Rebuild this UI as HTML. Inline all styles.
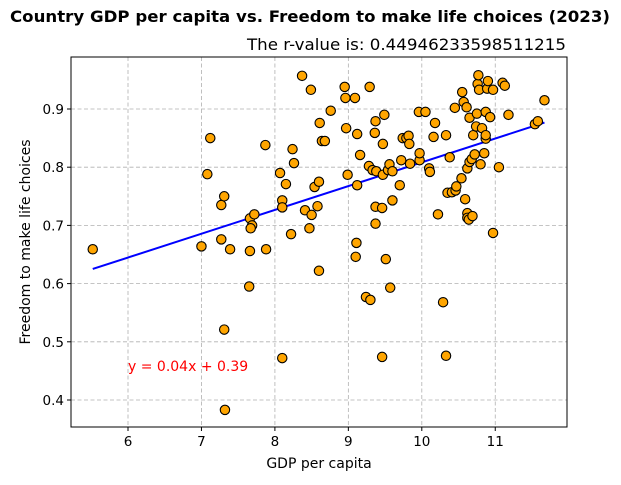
<!DOCTYPE html>
<html><head><meta charset="utf-8"><style>
body{margin:0;background:#fff;font-family:"Liberation Sans","DejaVu Sans",sans-serif}
</style></head><body>
<svg id="chart" width="621" height="480" xmlns="http://www.w3.org/2000/svg" font-family="'DejaVu Sans','Liberation Sans',sans-serif">
<text x="310" y="22" text-anchor="middle" font-size="16" font-weight="bold" textLength="600" lengthAdjust="spacingAndGlyphs">Country GDP per capita vs. Freedom to make life choices (2023)</text>
<text x="566" y="50" text-anchor="end" font-size="16" textLength="319" lengthAdjust="spacingAndGlyphs">The r-value is: 0.44946233598511215</text>
<g id="grid"></g>
<g id="ticks"></g>
<g id="line"></g>
<g id="points"></g>
<rect x="71" y="57" width="496" height="370" fill="none" stroke="#000" stroke-width="1"/>
<text x="128" y="371" font-size="14" fill="red">y = 0.04x + 0.39</text>
<text x="319" y="468" text-anchor="middle" font-size="14">GDP per capita</text>
<text x="30" y="242" text-anchor="middle" font-size="14" transform="rotate(-90 30 242)">Freedom to make life choices</text>
</svg>
<script>
const gdp=[5.52,7.0,7.08,7.12,7.27,7.31,7.27,7.31,7.32,7.39,7.66,7.72,7.69,7.67,7.66,7.65,7.87,7.88,8.07,8.1,8.1,8.1,8.15,8.22,8.24,8.26,8.37,8.41,8.47,8.49,8.5,8.54,8.58,8.6,8.6,8.61,8.64,8.68,8.76,8.95,8.96,8.97,8.99,9.09,9.1,9.11,9.12,9.12,9.16,9.24,9.28,9.29,9.3,9.33,9.36,9.37,9.37,9.37,9.38,9.46,9.46,9.47,9.49,9.47,9.51,9.54,9.56,9.57,9.6,9.6,9.7,9.72,9.74,9.79,9.82,9.84,9.83,9.96,10.05,9.97,9.97,10.1,10.11,10.16,10.18,10.22,10.29,10.33,10.33,10.35,10.38,10.41,10.45,10.46,10.47,10.54,10.55,10.57,10.61,10.59,10.62,10.62,10.62,10.64,10.65,10.65,10.68,10.69,10.7,10.72,10.74,10.75,10.76,10.77,10.78,10.8,10.82,10.85,10.87,10.87,10.87,10.89,10.9,10.93,10.97,10.97,11.05,11.1,11.13,11.18,11.54,11.58,11.67];
const freedom=[0.659,0.664,0.788,0.85,0.735,0.75,0.676,0.521,0.383,0.659,0.712,0.719,0.7,0.695,0.656,0.595,0.838,0.659,0.79,0.472,0.743,0.731,0.771,0.685,0.831,0.807,0.957,0.726,0.695,0.933,0.718,0.766,0.733,0.775,0.622,0.876,0.845,0.845,0.897,0.938,0.919,0.867,0.787,0.919,0.646,0.67,0.769,0.857,0.821,0.577,0.802,0.938,0.572,0.795,0.859,0.732,0.703,0.879,0.793,0.73,0.474,0.84,0.89,0.787,0.642,0.795,0.805,0.593,0.793,0.743,0.769,0.812,0.85,0.85,0.854,0.806,0.84,0.895,0.895,0.812,0.824,0.798,0.792,0.852,0.876,0.719,0.568,0.476,0.855,0.756,0.817,0.757,0.902,0.76,0.767,0.781,0.929,0.912,0.903,0.745,0.798,0.721,0.713,0.71,0.809,0.885,0.814,0.716,0.855,0.822,0.87,0.892,0.943,0.958,0.933,0.805,0.867,0.824,0.895,0.849,0.855,0.935,0.948,0.886,0.687,0.933,0.8,0.945,0.94,0.89,0.874,0.879,0.915];
const xTicks=[6,7,8,9,10,11];
const yTicks=[0.4,0.5,0.6,0.7,0.8,0.9];
const NS="http://www.w3.org/2000/svg";
const X=v=>128+(v-6)*73.45;
const Y=v=>109-(v-0.9)*582;
function mk(t,a,p){const e=document.createElementNS(NS,t);for(const k in a)e.setAttribute(k,a[k]);p.appendChild(e);return e;}
const grid=document.getElementById('grid'),ticks=document.getElementById('ticks');
xTicks.forEach(t=>{
 const g=mk('line',{x1:X(t),x2:X(t),y1:57,y2:427,stroke:'#b0b0b0','stroke-dasharray':'4,2.5','stroke-width':0.8},grid);
 
 
 mk('line',{x1:X(t),x2:X(t),y1:427,y2:431,stroke:'#000'},ticks);
 const l=mk('text',{x:X(t),y:446,'text-anchor':'middle','font-size':13.5},ticks);l.textContent=t;
 
 
});
yTicks.forEach(t=>{
 const g=mk('line',{x1:71,x2:567,y1:Y(t),y2:Y(t),stroke:'#b0b0b0','stroke-dasharray':'4,2.5','stroke-width':0.8},grid);
 
 
 mk('line',{x1:67,x2:71,y1:Y(t),y2:Y(t),stroke:'#000'},ticks);
 const l=mk('text',{x:64,y:Y(t)+5,'text-anchor':'end','font-size':13.5},ticks);l.textContent=t.toFixed(1);
 
 
});
const n=gdp.length;let mx=0,my=0;for(let i=0;i<n;i++){mx+=gdp[i];my+=freedom[i];}mx/=n;my/=n;
let sxy=0,sxx=0;for(let i=0;i<n;i++){sxy+=(gdp[i]-mx)*(freedom[i]-my);sxx+=(gdp[i]-mx)**2;}
const slope=sxy/sxx,icpt=my-slope*mx;
const x0=Math.min(...gdp),x1=Math.max(...gdp);
const rl=mk('line',{x1:X(x0),y1:Y(slope*x0+icpt),x2:X(x1),y2:Y(slope*x1+icpt),stroke:'#0000ff','stroke-width':2},document.getElementById('line'));


const pts=document.getElementById('points');
for(let i=0;i<n;i++){
 const c=mk('circle',{cx:X(gdp[i]),cy:Y(freedom[i]),r:4.7,fill:'orange',stroke:'#000','stroke-width':1.1},pts);
 
 
}
</script>
</body></html>
